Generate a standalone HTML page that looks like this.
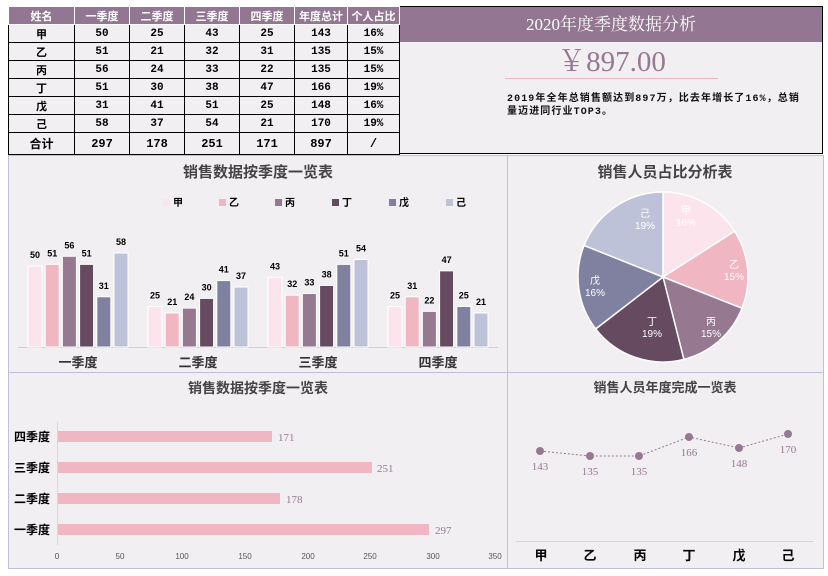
<!DOCTYPE html>
<html><head><meta charset="utf-8"><style>
body{margin:0;width:828px;height:576px;background:#fff;font-family:"Liberation Sans","Noto Sans CJK SC",sans-serif;position:relative;overflow:hidden}
table{position:absolute;left:8px;top:6px;border-collapse:collapse;font-family:"Liberation Mono","Noto Sans CJK SC",monospace;font-weight:bold;font-size:11px}
td{border:1px solid #000;text-align:center;height:17px;padding:0;background:#f2eff3}
tr.h td{background:#937691;color:#fff;border-color:#fff}
tr.t td{height:21px;font-size:12px}
</style></head><body>
<table>
<colgroup><col style="width:66px"><col style="width:55px"><col style="width:55px"><col style="width:55px"><col style="width:55px"><col style="width:53px"><col style="width:52px"></colgroup>
<tr class="h"><td>姓名</td><td>一季度</td><td>二季度</td><td>三季度</td><td>四季度</td><td>年度总计</td><td>个人占比</td></tr>
<tr><td>甲</td><td>50</td><td>25</td><td>43</td><td>25</td><td>143</td><td>16%</td></tr>
<tr><td>乙</td><td>51</td><td>21</td><td>32</td><td>31</td><td>135</td><td>15%</td></tr>
<tr><td>丙</td><td>56</td><td>24</td><td>33</td><td>22</td><td>135</td><td>15%</td></tr>
<tr><td>丁</td><td>51</td><td>30</td><td>38</td><td>47</td><td>166</td><td>19%</td></tr>
<tr><td>戊</td><td>31</td><td>41</td><td>51</td><td>25</td><td>148</td><td>16%</td></tr>
<tr><td>己</td><td>58</td><td>37</td><td>54</td><td>21</td><td>170</td><td>19%</td></tr>
<tr class="t"><td>合计</td><td>297</td><td>178</td><td>251</td><td>171</td><td>897</td><td>/</td></tr>
</table>
<div style="position:absolute;left:400px;top:6px;width:423px;height:148px;border:1px solid #000;border-left:none;box-sizing:border-box;background:#f2eff3"></div>
<div style="position:absolute;left:400px;top:7px;width:422px;height:35px;background:#937691;color:#fff;font-family:'Liberation Serif','Noto Serif CJK SC',serif;font-size:17px;text-align:center;line-height:35px">2020年度季度数据分析</div>
<div style="position:absolute;left:505px;top:44px;width:213px;text-align:center;font-family:'Liberation Serif','Noto Serif CJK SC',serif;font-size:29px;color:#967891;line-height:36px">￥897.00</div>
<div style="position:absolute;left:505px;top:78px;width:213px;height:1px;background:#f0b6c1"></div>
<div style="position:absolute;left:507px;top:93px;width:320px;white-space:nowrap;font-family:'Liberation Mono','Noto Sans CJK SC',monospace;font-weight:bold;font-size:10px;letter-spacing:1.1px;line-height:13px;color:#111">2019年全年总销售额达到897万，比去年增长了16%，总销<br>量迈进同行业TOP3。</div>
<svg style="position:absolute;left:0;top:0" width="828" height="576" font-family="Liberation Sans,Noto Sans CJK SC,sans-serif">
<g fill="#f2eff3" stroke="#c0c0dc" stroke-width="1">
<rect x="8.5" y="155.5" width="499" height="217"/><rect x="507.5" y="155.5" width="316" height="217"/>
<rect x="8.5" y="372.5" width="499" height="196"/><rect x="507.5" y="372.5" width="316" height="196"/>
</g>
<text x="258" y="177" text-anchor="middle" font-size="15" font-weight="bold" fill="#444">销售数据按季度一览表</text>
<g font-size="10" font-weight="bold" fill="#000">
<rect x="163" y="199" width="7" height="7" fill="#fce4ec"/><text x="173" y="206">甲</text>
<rect x="219" y="199" width="7" height="7" fill="#f0b6c1"/><text x="229" y="206">乙</text>
<rect x="275" y="199" width="7" height="7" fill="#967891"/><text x="285" y="206">丙</text>
<rect x="332" y="199" width="7" height="7" fill="#654a60"/><text x="342" y="206">丁</text>
<rect x="389" y="199" width="7" height="7" fill="#8080a0"/><text x="399" y="206">戊</text>
<rect x="446" y="199" width="7" height="7" fill="#bec2d8"/><text x="456" y="206">己</text>
</g>
<line x1="18" y1="347.5" x2="498" y2="347.5" stroke="#b8d8e4"/>
<g id="bars" stroke="#fff" stroke-width="1" font-size="9" font-weight="bold" text-anchor="middle"></g>
<g font-size="13" font-weight="bold" fill="#333" text-anchor="middle">
<text x="78" y="367">一季度</text><text x="198" y="367">二季度</text><text x="318" y="367">三季度</text><text x="438" y="367">四季度</text></g>
<text x="665" y="177" text-anchor="middle" font-size="15" font-weight="bold" fill="#444">销售人员占比分析表</text>
<g stroke="#fff" stroke-width="1.5">
<path d="M663,277 L663,192 A85,85 0 0 1 734.6,231.2Z" fill="#fce4ec"/>
<path d="M663,277 L734.6,231.2 A85,85 0 0 1 742,308.3Z" fill="#f0b6c1"/>
<path d="M663,277 L742,308.3 A85,85 0 0 1 683.9,359.4Z" fill="#967891"/>
<path d="M663,277 L683.9,359.4 A85,85 0 0 1 595.7,328.9Z" fill="#654a60"/>
<path d="M663,277 L595.7,328.9 A85,85 0 0 1 584.1,245.4Z" fill="#8080a0"/>
<path d="M663,277 L584.1,245.4 A85,85 0 0 1 663,192Z" fill="#bec2d8"/>
</g>
<g fill="#fff" font-size="10" text-anchor="middle">
<text x="686" y="214">甲</text><text x="686" y="226">16%</text>
<text x="734" y="268">乙</text><text x="734" y="280">15%</text>
<text x="711" y="325">丙</text><text x="711" y="337">15%</text>
<text x="652" y="325">丁</text><text x="652" y="337">19%</text>
<text x="595" y="284">戊</text><text x="595" y="296">16%</text>
<text x="645" y="217">己</text><text x="645" y="229">19%</text>
</g>
<text x="258" y="393" text-anchor="middle" font-size="14" font-weight="bold" fill="#444">销售数据按季度一览表</text>
<line x1="57.5" y1="422" x2="57.5" y2="545" stroke="#d8d8d8"/>
<g fill="#f0b6c1"><rect x="58" y="431" width="214" height="11"/><rect x="58" y="462" width="314" height="11"/><rect x="58" y="493" width="222" height="11"/><rect x="58" y="524" width="371" height="11"/></g>
<g font-size="11" fill="#967891" font-family="Liberation Serif,serif"><text x="278" y="441">171</text><text x="377" y="472">251</text><text x="286" y="503">178</text><text x="435" y="534">297</text></g>
<g font-size="12" font-weight="bold" fill="#000" text-anchor="end"><text x="50" y="441">四季度</text><text x="50" y="472">三季度</text><text x="50" y="503">二季度</text><text x="50" y="534">一季度</text></g>
<g font-size="8" fill="#555" text-anchor="middle"><text x="57" y="559">0</text><text x="120" y="559">50</text><text x="182" y="559">100</text><text x="245" y="559">150</text><text x="308" y="559">200</text><text x="370" y="559">250</text><text x="433" y="559">300</text><text x="495" y="559">350</text></g>
<text x="665" y="392" text-anchor="middle" font-size="13" font-weight="bold" fill="#444">销售人员年度完成一览表</text>
<polyline points="540,451 590,456 639,456 689,437 739,448 788,434" fill="none" stroke="#967891" stroke-dasharray="2,2"/>
<g fill="#967891"><circle cx="540" cy="451" r="4"/><circle cx="590" cy="456" r="4"/><circle cx="639" cy="456" r="4"/><circle cx="689" cy="437" r="4"/><circle cx="739" cy="448" r="4"/><circle cx="788" cy="434" r="4"/></g>
<g font-size="11" fill="#967891" text-anchor="middle" font-family="Liberation Serif,serif"><text x="540" y="470">143</text><text x="590" y="475">135</text><text x="639" y="475">135</text><text x="689" y="456">166</text><text x="739" y="467">148</text><text x="788" y="453">170</text></g>
<line x1="516" y1="541.5" x2="813" y2="541.5" stroke="#d8d8d8"/>
<g font-size="13" font-weight="bold" fill="#000" text-anchor="middle"><text x="541" y="560">甲</text><text x="590" y="560">乙</text><text x="640" y="560">丙</text><text x="689" y="560">丁</text><text x="739" y="560">戊</text><text x="788" y="560">己</text></g>
</svg>
<script>
var d=[[50,51,56,51,31,58],[25,21,24,30,41,37],[43,32,33,38,51,54],[25,31,22,47,25,21]];
var c=["#fce4ec","#f0b6c1","#967891","#654a60","#8080a0","#bec2d8"];
var g=document.getElementById("bars"),s="";
for(var i=0;i<4;i++)for(var j=0;j<6;j++){var v=d[i][j],h=v*1.62,x=28+i*120+j*17.2;
s+='<rect x="'+x+'" y="'+(347-h)+'" width="14" height="'+h+'" fill="'+c[j]+'"/>';
s+='<text x="'+(x+7)+'" y="'+(347-h-8)+'" stroke="none" fill="#000">'+v+'</text>';}
g.innerHTML=s;
</script>
</body></html>
